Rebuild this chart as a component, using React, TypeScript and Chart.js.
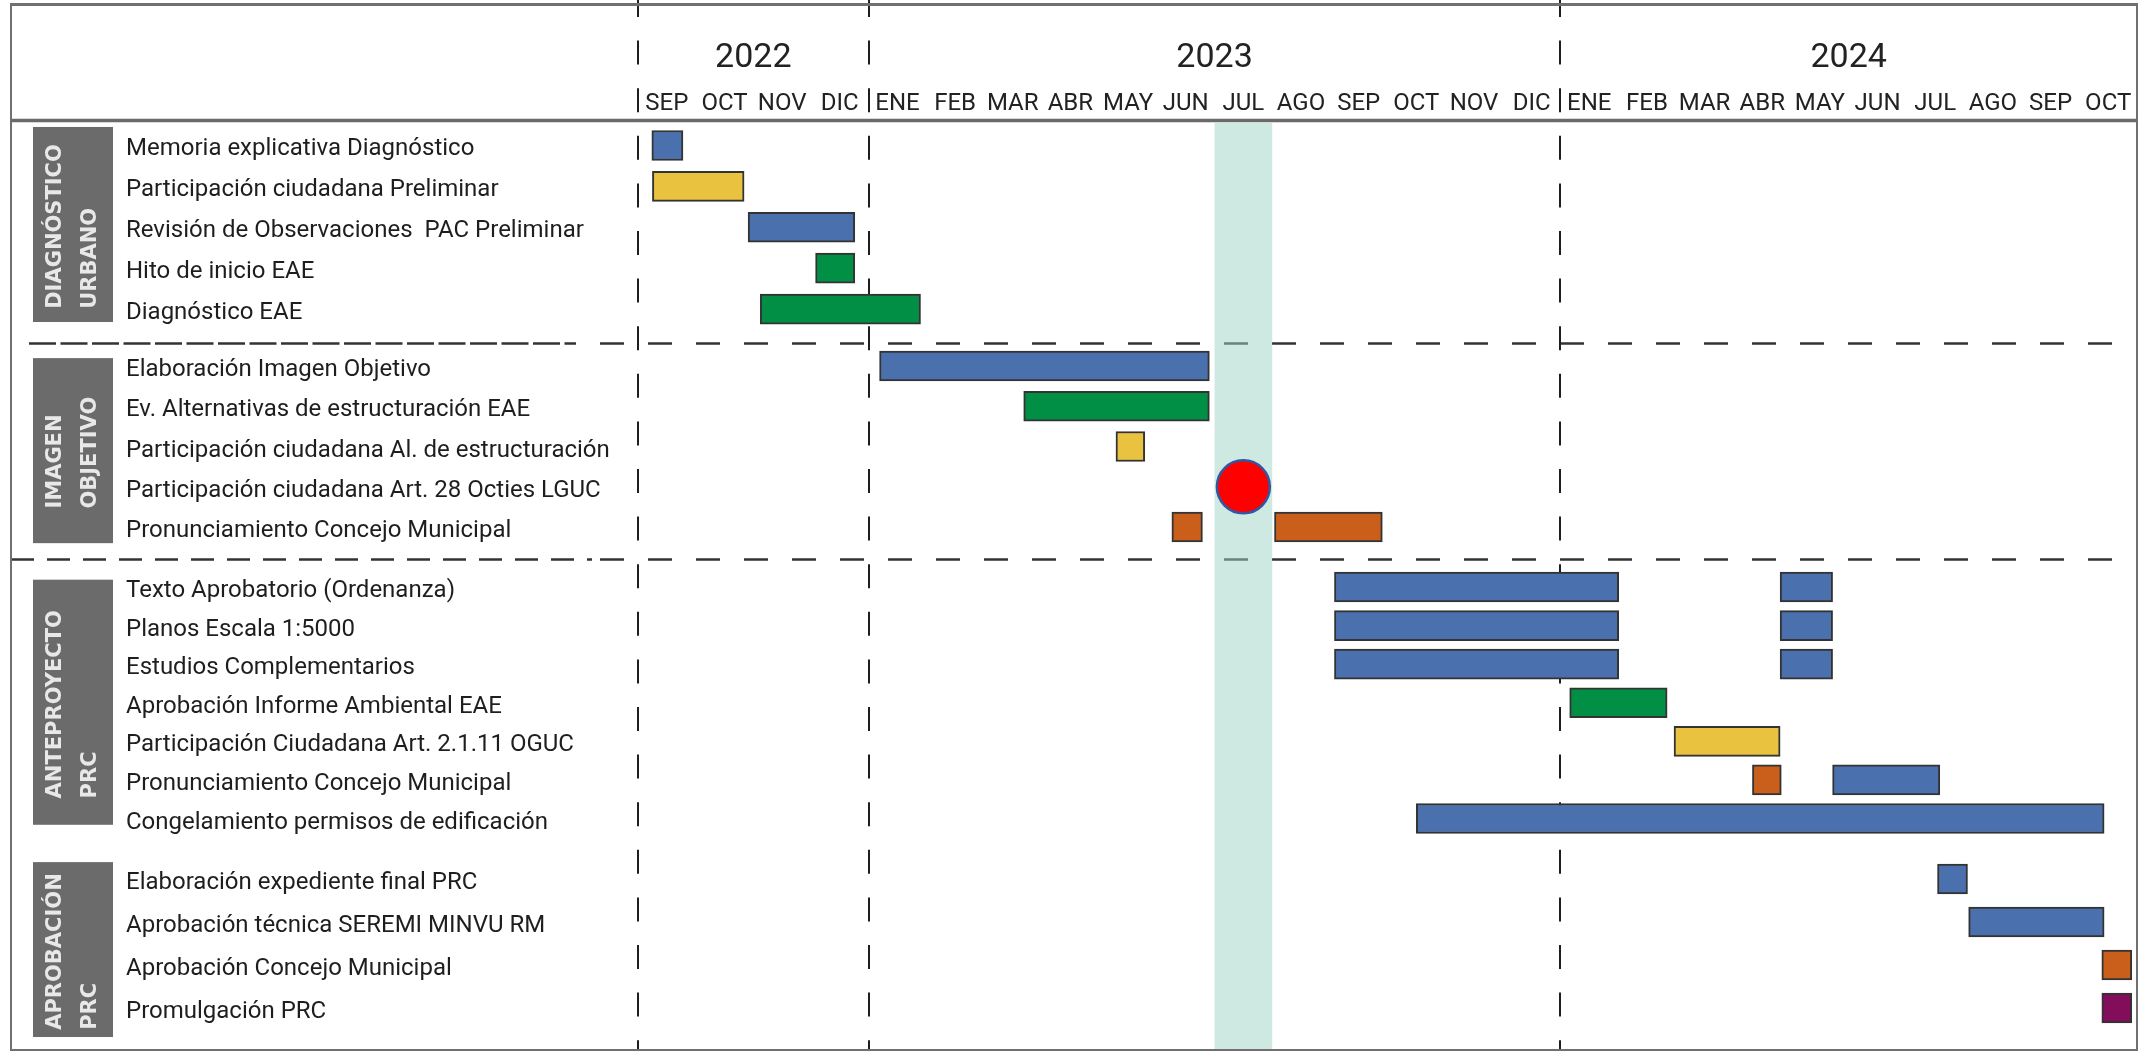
import React, { useEffect, useRef } from 'react';
import { Chart, registerables } from 'chart.js';

Chart.register(...registerables);

// ---------- data ----------
const MONTH_LABELS = ['SEP', 'OCT', 'NOV', 'DIC', 'ENE', 'FEB', 'MAR', 'ABR', 'MAY', 'JUN', 'JUL', 'AGO', 'SEP', 'OCT', 'NOV', 'DIC', 'ENE', 'FEB', 'MAR', 'ABR', 'MAY', 'JUN', 'JUL', 'AGO', 'SEP', 'OCT'];
const YEAR_LABELS = ['2022', '2023', '2024'];
const YEAR_START_MONTH = [0, 4, 16];
const YEAR_END_MONTH = [4, 16, 26];
const HIGHLIGHT_MONTH = 10; // JUL 2023

const GROUP_TITLES = [
  ['DIAGNÓSTICO', 'URBANO'],
  ['IMAGEN', 'OBJETIVO'],
  ['ANTEPROYECTO', 'PRC'],
  ['APROBACIÓN', 'PRC'],
];

const DIAGNOSTICO_TASKS = [
  'Memoria explicativa Diagnóstico',
  'Participación ciudadana Preliminar',
  'Revisión de Observaciones  PAC Preliminar',
  'Hito de inicio EAE',
  'Diagnóstico EAE',
];
const IMAGEN_TASKS = [
  'Elaboración Imagen Objetivo',
  'Ev. Alternativas de estructuración EAE',
  'Participación ciudadana Al. de estructuración',
  'Participación ciudadana Art. 28 Octies LGUC',
  'Pronunciamiento Concejo Municipal',
];
const ANTEPROYECTO_TASKS = [
  'Texto Aprobatorio (Ordenanza)',
  'Planos Escala 1:5000',
  'Estudios Complementarios',
  'Aprobación Informe Ambiental EAE',
  'Participación Ciudadana Art. 2.1.11 OGUC',
  'Pronunciamiento Concejo Municipal',
  'Congelamiento permisos de edificación',
];
const APROBACION_TASKS = [
  'Elaboración expediente final PRC',
  'Aprobación técnica SEREMI MINVU RM',
  'Aprobación Concejo Municipal',
  'Promulgación PRC',
];
const TASK_GROUPS = [DIAGNOSTICO_TASKS, IMAGEN_TASKS, ANTEPROYECTO_TASKS, APROBACION_TASKS];

// [task row, start month, end month, colour] — months counted from SEP 2022 = 0
const BARS: [number, number, number, string][] = [
  [0, 0.24, 0.78, 'blue'],
  [1, 0.25, 1.84, 'yellow'],
  [2, 1.91, 3.76, 'blue'],
  [3, 3.08, 3.76, 'green'],
  [4, 2.12, 4.9, 'green'],
  [5, 4.19, 9.91, 'blue'],
  [6, 6.69, 9.91, 'green'],
  [7, 8.29, 8.79, 'yellow'],
  [9, 9.26, 9.79, 'orange'],
  [9, 11.04, 12.91, 'orange'],
  [10, 12.08, 17.01, 'blue'],
  [10, 19.81, 20.72, 'blue'],
  [11, 12.08, 17.01, 'blue'],
  [11, 19.81, 20.72, 'blue'],
  [12, 12.08, 17.01, 'blue'],
  [12, 19.81, 20.72, 'blue'],
  [13, 16.16, 17.85, 'green'],
  [14, 17.97, 19.81, 'yellow'],
  [15, 19.33, 19.83, 'orange'],
  [15, 20.72, 22.58, 'blue'],
  [16, 13.5, 25.43, 'blue'],
  [17, 22.54, 23.06, 'blue'],
  [18, 23.08, 25.43, 'blue'],
  [19, 25.39, 25.91, 'orange'],
  [20, 25.39, 25.91, 'purple'],
];
const MILESTONE_TASK = 8;
const MILESTONE_MONTH = 10.5;

// ---------- styles / layout ----------
const COLORS: Record<string, string> = {
  blue: '#4a71ae',
  yellow: '#e9c23f',
  green: '#008f45',
  orange: '#c95f1b',
  purple: '#830d5b',
};
const GROUP_ROW_START = [0, 5.434, 10.88, 18.075];
const GROUP_ROW_STEP = [1.008, 0.992, 0.951, 1.06];
const GROUP_BOX = [[-0.456, 4.35], [5.24, 9.8], [10.7, 16.74], [17.66, 21.97]];
const SEPARATORS = [4.867, 10.19];

const W = 2139;
const H = 1052;

export default function App() {
  const ref = useRef<HTMLCanvasElement | null>(null);

  useEffect(() => {
    if (!ref.current) return;
    const rowPos: number[] = [];
    const rowLabels: string[] = [];
    TASK_GROUPS.forEach((tasks, g) =>
      tasks.forEach((t, i) => {
        rowPos.push(GROUP_ROW_START[g] + i * GROUP_ROW_STEP[g]);
        rowLabels.push(t);
      })
    );

    const barData = BARS.map(([t, s, e]) => ({ x: [s, e], y: rowPos[t] }));

    const line = (ctx: CanvasRenderingContext2D, dash: number[], x0: number, y0: number, x1: number, y1: number) => {
      ctx.setLineDash(dash);
      ctx.beginPath();
      ctx.moveTo(x0, y0);
      ctx.lineTo(x1, y1);
      ctx.stroke();
    };

    const decor = {
      id: 'decor',
      beforeDatasetsDraw(chart: any) {
        const { ctx, chartArea: a, scales } = chart;
        const x = scales.x;
        const y = scales.y;
        ctx.save();
        // horizontal separators
        ctx.strokeStyle = '#333333';
        ctx.lineWidth = 2.5;
        const s1 = Math.round(y.getPixelForValue(SEPARATORS[0])) + 0.5;
        line(ctx, [27, 4.5], 29, s1, 576, s1);
        line(ctx, [24, 24], 600, s1, a.right, s1);
        const s2 = Math.round(y.getPixelForValue(SEPARATORS[1])) + 0.5;
        line(ctx, [23, 13], 11, s2, 592, s2);
        line(ctx, [24, 24], 600, s2, a.right, s2);
        // year dividers
        ctx.strokeStyle = '#1e1e1e';
        ctx.lineWidth = 2;
        YEAR_START_MONTH.forEach((m) => {
          const px = Math.round(x.getPixelForValue(m));
          line(ctx, [24, 23.6], px, -7, px, a.bottom);
        });
        ctx.setLineDash([]);
        // highlighted month band
        const bx0 = x.getPixelForValue(HIGHLIGHT_MONTH);
        const bx1 = x.getPixelForValue(HIGHLIGHT_MONTH + 1);
        ctx.fillStyle = 'rgba(156,212,198,0.5)';
        ctx.fillRect(bx0, a.top, bx1 - bx0, a.bottom - a.top);
        // group boxes
        GROUP_TITLES.forEach((lines, g) => {
          const top = y.getPixelForValue(GROUP_BOX[g][0]);
          const bot = y.getPixelForValue(GROUP_BOX[g][1]);
          const left = 33;
          const right = 113;
          ctx.fillStyle = '#6b6b6b';
          ctx.fillRect(left, top, right - left, bot - top);
          ctx.save();
          ctx.translate((left + right) / 2, (top + bot) / 2);
          ctx.rotate(-Math.PI / 2);
          ctx.font = 'bold 21px "DejaVu Sans", "Liberation Sans", sans-serif';
          ctx.fillStyle = '#e8e8e8';
          ctx.textBaseline = 'middle';
          ctx.textAlign = 'left';
          const wMax = Math.max(...lines.map((l) => ctx.measureText(l).width));
          lines.forEach((l, i) => {
            ctx.fillText(l, -wMax / 2 - 2, (i - (lines.length - 1) / 2) * 35);
          });
          ctx.restore();
        });
        ctx.restore();
      },
      afterDraw(chart: any) {
        const { ctx } = chart;
        ctx.save();
        ctx.setLineDash([]);
        ctx.strokeStyle = '#707070';
        ctx.lineWidth = 2;
        ctx.strokeRect(11, 4, 2126, 1046);
        ctx.lineWidth = 3;
        line(ctx, [], 11, 4.5, 2137, 4.5);
        ctx.strokeStyle = '#6a6a6a';
        ctx.lineWidth = 3.5;
        line(ctx, [], 11, 120.5, 2137, 120.5);
        ctx.restore();
      },
    };

    const noPadX = (s: any) => {
      s.paddingLeft = 0;
      s.paddingRight = 0;
    };

    const chart = new Chart(ref.current, {
      type: 'bar',
      data: {
        datasets: [
          {
            type: 'scatter',
            data: [{ x: MILESTONE_MONTH, y: rowPos[MILESTONE_TASK] }],
            pointRadius: 26.5,
            pointHoverRadius: 26.5,
            backgroundColor: '#ff0000',
            borderColor: '#3356a2',
            borderWidth: 2.5,
            order: 0,
            xAxisID: 'x',
            yAxisID: 'y',
          } as any,
          {
            type: 'bar',
            indexAxis: 'y',
            data: barData as any,
            backgroundColor: BARS.map((b) => COLORS[b[3]]),
            borderColor: '#333333',
            borderWidth: 2,
            borderSkipped: false,
            barThickness: 30,
            grouped: false,
            order: 1,
            xAxisID: 'x',
            yAxisID: 'y',
          } as any,
        ],
      },
      options: {
        responsive: false,
        animation: false,
        events: [],
        layout: { autoPadding: false, padding: { left: 126, right: 2, top: 0, bottom: 2 } },
        plugins: { legend: { display: false }, tooltip: { enabled: false } },
        scales: {
          x: {
            type: 'linear',
            axis: 'x',
            position: 'top',
            min: 0,
            max: 26,
            offset: false,
            weight: 0,
            grid: { display: false },
            border: { display: false },
            afterBuildTicks: (s: any) => {
              s.ticks = MONTH_LABELS.map((_, i) => ({ value: i + 0.5 }));
            },
            afterFit: (s: any) => {
              s.height = 42;
              noPadX(s);
            },
            ticks: {
              autoSkip: false,
              maxRotation: 0,
              minRotation: 0,
              padding: -3,
              color: '#222222',
              font: { family: 'Roboto', size: 24 },
              callback: (_v: any, i: number) => MONTH_LABELS[i],
            },
          } as any,
          x2: {
            type: 'linear',
            axis: 'x',
            position: 'top',
            min: 0,
            max: 26,
            offset: false,
            weight: 1,
            grid: { display: false },
            border: { display: false },
            afterBuildTicks: (s: any) => {
              s.ticks = YEAR_LABELS.map((_, i) => ({ value: (YEAR_START_MONTH[i] + YEAR_END_MONTH[i]) / 2 }));
            },
            afterFit: (s: any) => {
              s.height = 81;
              noPadX(s);
            },
            ticks: {
              autoSkip: false,
              maxRotation: 0,
              minRotation: 0,
              padding: -6,
              color: '#222222',
              font: { family: 'Roboto', size: 34 },
              callback: (_v: any, i: number) => YEAR_LABELS[i],
            },
          } as any,
          y: {
            type: 'linear',
            position: 'left',
            min: -0.554,
            max: 22.29,
            reverse: true,
            offset: false,
            grid: { display: false },
            border: { display: false },
            afterBuildTicks: (s: any) => {
              s.ticks = rowPos.map((v) => ({ value: v }));
            },
            afterFit: (s: any) => {
              s.width = 512;
              s.paddingTop = 0;
              s.paddingBottom = 0;
            },
            ticks: {
              autoSkip: false,
              crossAlign: 'far',
              labelOffset: 4,
              color: '#1e1e1e',
              font: { family: 'Roboto', size: 24 },
              callback: (_v: any, i: number) => rowLabels[i],
            },
          } as any,
        },
      },
      plugins: [decor],
    });

    return () => chart.destroy();
  }, []);

  return (
    <div style={{ position: 'fixed', left: 0, top: 0, width: W, height: H, background: '#ffffff' }}>
      <canvas ref={ref} width={W} height={H} style={{ display: 'block', width: W, height: H }} />
    </div>
  );
}
